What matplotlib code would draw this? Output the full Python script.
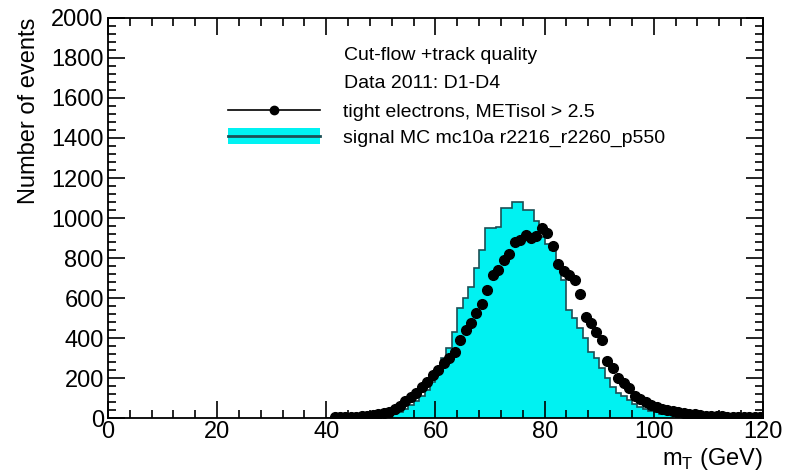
import matplotlib
matplotlib.use("Agg")
import numpy as np
from matplotlib import pyplot as plt
from matplotlib.lines import Line2D
from matplotlib.patches import Patch
from matplotlib.ticker import MultipleLocator

plt.rcParams['font.family'] = ['Liberation Sans', 'DejaVu Sans']

# 1 GeV bins from 40 to 120
bin_edges = np.arange(40, 121, 1)

# signal MC histogram (per 1 GeV bin, 40..119)
mc_counts = [0, 0, 0, 1, 1,
             2, 3, 4, 5, 7,
             10, 14, 20, 30, 45,
             65, 85, 110, 140, 180,
             250, 300, 350, 430, 550,
             600, 655, 750, 840, 950,
             950, 955, 1050, 1050, 1080,
             1080, 1040, 1040, 985, 905,
             870, 840, 760, 690, 540,
             500, 450, 400, 330, 300,
             250, 200, 155, 125, 110,
             90, 70, 55, 45, 35,
             28, 22, 18, 14, 11,
             9, 7, 6, 5, 4,
             3, 3, 2, 2, 2,
             1, 1, 1, 1, 1]

# data points, bin centres 41.5 .. 119.5
data_x = np.arange(41.5, 120, 1)
data_counts = [3, 4, 5, 6, 7, 9, 12, 15, 20,
               25, 32, 45, 60, 85,
               105, 125, 155, 180, 215,
               240, 275, 300, 330, 390,
               440, 475, 525, 570, 640,
               715, 740, 790, 820, 880,
               890, 915, 900, 910, 950,
               925, 860, 770, 735, 715,
               690, 620, 505, 475, 430,
               390, 285, 250, 200, 175,
               150, 110, 95, 80, 65,
               55, 45, 40, 33, 30,
               25, 22, 18, 15, 12,
               10, 9, 8, 7, 6,
               6, 5, 5, 5, 4]

header_lines = ["Cut-flow +track quality", "Data 2011: D1-D4"]
data_label = "tight electrons, METisol > 2.5"
mc_label = "signal MC mc10a r2216_r2260_p550"

fill_col = "#00f2f2"
edge_col = "#1b4f55"

fig = plt.figure(figsize=(7.86, 4.71), dpi=100)
ax = fig.add_axes([0.1374, 0.1125, 0.8333, 0.8493])

ax.stairs(mc_counts, bin_edges, fill=True, color=fill_col, linewidth=0)
ax.stairs(mc_counts, bin_edges, color=edge_col, linewidth=1.2)
ax.plot(data_x, data_counts, 'o', color='black', markersize=7, zorder=5)

ax.set_xlim(0, 120)
ax.set_ylim(0, 2000)
ax.xaxis.set_major_locator(MultipleLocator(20))
ax.xaxis.set_minor_locator(MultipleLocator(4))
ax.yaxis.set_major_locator(MultipleLocator(200))
ax.yaxis.set_minor_locator(MultipleLocator(40))
ax.tick_params(which='both', direction='in', top=True, right=True, labelsize=17, width=1.2)
ax.tick_params(which='major', length=12)
ax.tick_params(which='minor', length=6)
ax.tick_params(axis='x', pad=2)
ax.tick_params(axis='y', pad=3)
for s in ax.spines.values():
    s.set_linewidth(1.3)

ax.set_xlabel(r"m$_{\mathregular{T}}$ (GeV)", fontsize=17, loc='right', labelpad=2)
ax.set_ylabel("Number of events", fontsize=17, loc='top', labelpad=8)

# header text and legend
ax.text(0.361, 0.905, header_lines[0], transform=ax.transAxes, fontsize=14, va='center')
ax.text(0.361, 0.835, header_lines[1], transform=ax.transAxes, fontsize=14, va='center')

h_data = Line2D([], [], color='black', marker='o', markersize=6, linewidth=1.2)
h_mc = (Patch(facecolor=fill_col, edgecolor='none'), Line2D([], [], color=edge_col, linewidth=2))
ax.legend([h_data, h_mc], [data_label, mc_label], loc='upper left',
          bbox_to_anchor=(0.172, 0.808), frameon=False, fontsize=14,
          handlelength=4.7, handleheight=0.85, handletextpad=1.2, labelspacing=0.38,
          borderaxespad=0)

plt.savefig("out.png", dpi=100)
